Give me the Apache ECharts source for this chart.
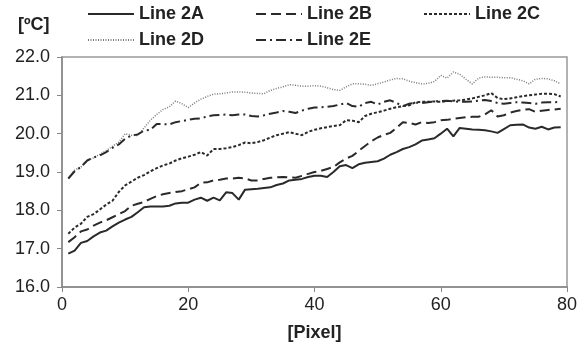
<!DOCTYPE html>
<html>
<head>
<meta charset="utf-8">
<script src="https://cdn.jsdelivr.net/npm/echarts@6/dist/echarts.min.js"></script>
<style>html,body{margin:0;padding:0;background:#fff}#c{width:585px;height:350px}</style>
</head>
<body>
<div id="c"></div>
<script>
var pixels = [];
for (var i = 1; i <= 79; i++) pixels.push(i);

var line2A = [16.87,16.95,17.15,17.2,17.32,17.42,17.47,17.58,17.68,17.76,17.83,17.95,18.08,18.1,18.1,18.1,18.12,18.18,18.2,18.2,18.28,18.33,18.25,18.33,18.26,18.47,18.45,18.28,18.54,18.55,18.56,18.58,18.6,18.66,18.7,18.78,18.8,18.82,18.87,18.9,18.9,18.87,19.0,19.15,19.18,19.1,19.2,19.24,19.26,19.28,19.35,19.45,19.52,19.6,19.65,19.72,19.82,19.85,19.88,20.0,20.13,19.93,20.15,20.13,20.11,20.1,20.09,20.06,20.02,20.12,20.22,20.23,20.24,20.16,20.13,20.18,20.11,20.16,20.17];
var line2B = [17.17,17.3,17.45,17.5,17.6,17.68,17.74,17.82,17.9,17.98,18.12,18.17,18.22,18.3,18.37,18.42,18.45,18.48,18.5,18.55,18.6,18.72,18.73,18.78,18.8,18.83,18.83,18.85,18.83,18.78,18.78,18.82,18.85,18.86,18.87,18.86,18.85,18.9,18.95,19.0,19.03,19.08,19.13,19.25,19.35,19.42,19.55,19.68,19.8,19.9,19.97,20.02,20.15,20.3,20.28,20.24,20.3,20.28,20.3,20.35,20.36,20.39,20.41,20.43,20.44,20.44,20.5,20.61,20.45,20.48,20.55,20.59,20.62,20.64,20.57,20.6,20.62,20.63,20.65];
var line2C = [17.39,17.55,17.65,17.83,17.9,18.02,18.15,18.25,18.48,18.65,18.75,18.85,18.92,19.02,19.1,19.17,19.22,19.3,19.36,19.4,19.45,19.52,19.43,19.6,19.6,19.62,19.65,19.7,19.77,19.75,19.78,19.83,19.9,19.96,20.0,20.04,20.0,19.96,20.05,20.1,20.14,20.17,20.2,20.22,20.35,20.34,20.3,20.46,20.52,20.56,20.6,20.65,20.69,20.72,20.74,20.82,20.83,20.83,20.84,20.83,20.85,20.86,20.87,20.89,20.92,20.96,21.0,21.06,20.93,20.9,20.92,20.95,20.98,21.0,21.02,21.04,21.04,21.03,20.97];
var line2D = [18.83,19.05,19.13,19.3,19.37,19.46,19.56,19.67,19.78,20.0,19.96,19.95,20.15,20.35,20.5,20.63,20.7,20.85,20.78,20.68,20.8,20.9,20.97,21.03,21.04,21.06,21.09,21.09,21.08,21.06,21.05,21.04,21.13,21.18,21.22,21.28,21.26,21.24,21.24,21.25,21.24,21.2,21.15,21.13,21.22,21.3,21.3,21.29,21.26,21.3,21.35,21.4,21.44,21.43,21.37,21.33,21.3,21.31,21.36,21.52,21.45,21.61,21.55,21.42,21.3,21.45,21.48,21.47,21.47,21.46,21.46,21.42,21.38,21.3,21.42,21.44,21.43,21.38,21.3];
var line2E = [18.83,19.02,19.13,19.3,19.38,19.43,19.52,19.63,19.72,19.87,19.95,19.98,20.08,20.1,20.25,20.25,20.24,20.3,20.33,20.36,20.39,20.4,20.45,20.48,20.49,20.5,20.48,20.5,20.5,20.46,20.45,20.48,20.52,20.55,20.59,20.57,20.54,20.6,20.65,20.68,20.69,20.7,20.72,20.76,20.8,20.72,20.7,20.8,20.83,20.76,20.83,20.87,20.8,20.72,20.78,20.81,20.8,20.82,20.84,20.85,20.86,20.84,20.83,20.83,20.84,20.86,20.88,20.85,20.8,20.78,20.8,20.82,20.81,20.8,20.78,20.81,20.82,20.82,20.83];

var seriesNames = ['Line 2A','Line 2B','Line 2C','Line 2D','Line 2E'];
var xTicks = [0,20,40,60,80];
var yTicks = [16,17,18,19,20,21,22];

function pairs(arr){ return arr.map(function(v,i){ return [pixels[i], v]; }); }

var FONT = '"Liberation Sans", Arial, sans-serif';
var styles = [
  {color:'#2a2a2a', width:2, type:'solid'},
  {color:'#2a2a2a', width:2, type:[10,5]},
  {color:'#2a2a2a', width:2, type:[3,2]},
  {color:'#7a7a7a', width:1.5, type:[1,1.5]},
  {color:'#2a2a2a', width:2, type:[10,4,2,4]}
];
var dataArr = [line2A,line2B,line2C,line2D,line2E];

var legendPos = [
  {left:82, top:0}, {left:250, top:0}, {left:418, top:0},
  {left:82, top:26}, {left:250, top:26}
];

var chart = echarts.init(document.getElementById('c'), null, {renderer:'canvas'});
chart.setOption({
  animation:false,
  backgroundColor:'#fff',
  title:{ text:'[ºC]', left:13, top:11, textStyle:{fontFamily:FONT, fontSize:18, fontWeight:'bold', color:'#222'} },
  legend: seriesNames.map(function(n,i){
    return {
      data:[n], left:legendPos[i].left, top:legendPos[i].top,
      itemWidth:46, itemHeight:14, itemGap:0,
      itemStyle:{opacity:0, color:'rgba(0,0,0,0)', borderColor:'rgba(0,0,0,0)', borderWidth:0},
      textStyle:{fontFamily:FONT, fontSize:18, fontWeight:'bold', color:'#222'},
      selectedMode:false
    };
  }),
  grid:{ left:62, right:18, top:57, bottom:63, show:true, borderColor:'#999', borderWidth:1.5 },
  xAxis:{
    type:'value', min:xTicks[0], max:xTicks[xTicks.length-1], interval:20,
    name:'[Pixel]', nameLocation:'middle', nameGap:37,
    nameTextStyle:{fontFamily:FONT, fontSize:18, fontWeight:'bold', color:'#222'},
    axisLine:{lineStyle:{color:'#888', width:1.5}},
    axisTick:{show:true, length:5, lineStyle:{color:'#888'}},
    axisLabel:{fontFamily:FONT, fontSize:18, color:'#222', margin:9},
    splitLine:{show:false}
  },
  yAxis:{
    type:'value', min:yTicks[0], max:yTicks[yTicks.length-1], interval:1,
    axisLine:{show:true, lineStyle:{color:'#888', width:1.5}},
    axisTick:{show:true, length:5, lineStyle:{color:'#888'}},
    axisLabel:{fontFamily:FONT, fontSize:18, color:'#222', margin:12, formatter:function(v){return v.toFixed(1);}},
    splitLine:{show:false}
  },
  series: seriesNames.map(function(n,i){
    return {
      name:n, type:'line', data:pairs(dataArr[i]), symbol:'none', smooth:false,
      lineStyle:{color:styles[i].color, width:styles[i].width, type:styles[i].type},
      itemStyle:{color:styles[i].color}
    };
  })
});
</script>
</body>
</html>
